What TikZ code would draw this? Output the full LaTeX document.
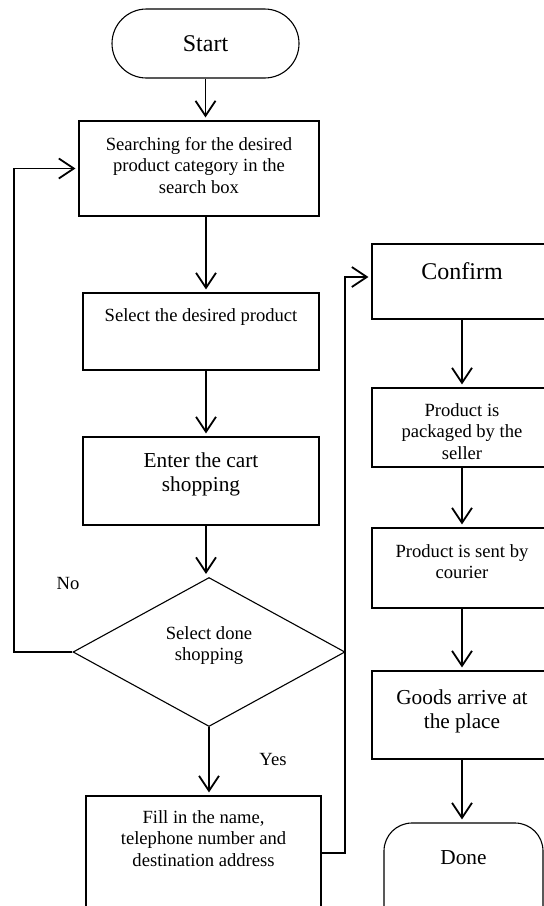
\documentclass[tikz,border=0pt]{standalone}
\usepackage{fontspec}
\setmainfont{Liberation Serif}
\usetikzlibrary{arrows.meta,shapes.geometric,shapes.misc}
\newcommand{\bt}[4]{\parbox[c][#2pt][t]{#1pt}{\centering\vspace*{#3pt}\strut #4}}
\tikzset{
  box/.style={draw, rectangle, line width=1.1pt, inner sep=0pt},
  term/.style={draw, rounded rectangle, line width=1.1pt, inner sep=0pt},
  sm/.style={font=\fontsize{18.6}{21.5}\selectfont},
  md/.style={font=\fontsize{21.3}{24.5}\selectfont},
  lg/.style={font=\fontsize{24}{27.5}\selectfont},
  arr/.style={line width=1.8pt, -{Straight Barb[length=15pt,width=20pt]}, shorten >=3pt},
}
\begin{document}
\begin{tikzpicture}[x=1pt,y=-1pt]
\path[use as bounding box, clip] (0,0) rectangle (544,906);
\fill[white] (0,0) rectangle (544,906);
% left column
\node[term, lg, minimum width=187pt, minimum height=69pt] (start) at (205.5,43.5) {Start};
\node[box, sm] (search) at (199,168.5) {\bt{240}{95}{14}{Searching for the desired\\product category in the\\search box}};
\node[box, sm] (select) at (201,331.5) {\bt{236}{77}{13}{Select the desired product}};
\node[box, md] (enter) at (201,481) {\bt{236}{88}{13}{Enter the cart\\shopping}};
\node[draw, diamond, aspect=1.825, line width=1.1pt, inner sep=0pt, minimum width=272pt, minimum height=149pt, sm] (dia) at (209,652) {\bt{120}{56}{0}{Select done\\shopping}};
\node[box, sm] (fill) at (203.5,853) {\bt{235}{114}{12}{Fill in the name,\\telephone number and\\destination address}};
% right column
\node[box, lg] (confirm) at (462,281.5) {\bt{180}{75}{16}{Confirm}};
\node[box, sm] (pack) at (462,427.5) {\bt{180}{79}{13}{Product is\\packaged by the\\seller}};
\node[box, sm] (sent) at (462,568) {\bt{180}{80}{14}{Product is sent by\\courier}};
\node[box, md] (goods) at (462,715) {\bt{180}{88}{16}{Goods arrive at\\the place}};
\node[draw, rectangle, rounded corners=28pt, line width=1.1pt, inner sep=0pt, md] (done) at (463.5,883) {\bt{159}{120}{24}{Done}};
% labels
\node[sm] (no) at (68,583) {No};
\node[sm] (yes) at (273,759) {Yes};
% helper columns
\coordinate (colL) at (206,0);
\coordinate (lx) at (14,0);
\coordinate (rx) at (345,0);
% connectors
\draw[arr] (start.south) -- (start.south |- search.north);
\draw[arr] (search.south -| colL) -- (select.north -| colL);
\draw[arr] (select.south -| colL) -- (enter.north -| colL);
\draw[arr] (enter.south -| colL) -- (dia.north -| colL);
\draw[arr] (dia.south) -- (dia.south |- fill.north);
\draw[arr] (dia.west) -- (dia.west -| lx) |- (search.west);
\draw[arr] (fill.east) -- (fill.east -| rx) |- ([yshift=4.5pt]confirm.west);
\draw[arr] (confirm.south) -- (confirm.south |- pack.north);
\draw[arr] (pack.south) -- (pack.south |- sent.north);
\draw[arr] (sent.south) -- (sent.south |- goods.north);
\draw[arr] (goods.south) -- (goods.south |- done.north);
\end{tikzpicture}
\end{document}
